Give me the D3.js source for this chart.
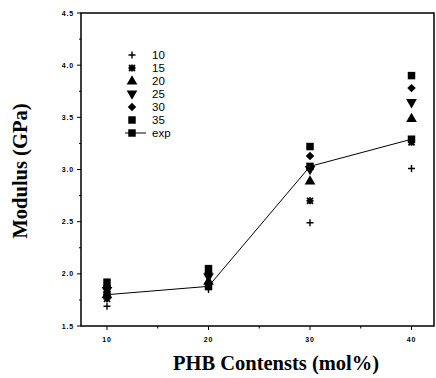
<!DOCTYPE html>
<html lang="en">
<head>
    <meta charset="UTF-8">
    <title>Modulus vs PHB Contents</title>
    <script src="https://d3js.org/d3.v7.min.js"></script>
    <style>
        body { margin: 0; background: #fff; }
        .tick-label { font-family: Arial, "Liberation Sans", sans-serif; font-size: 7px; font-weight: bold; letter-spacing: 0.8px; }
        .legend-label { font-family: Arial, "Liberation Sans", sans-serif; font-size: 11.5px; }
        .axis-title { font-family: "Times New Roman", "Liberation Serif", serif; font-size: 20.5px; font-weight: bold; }
    </style>
</head>
<body>
<div id="chart"></div>
<script>
    // PHB contents (x categories)
    const contents = [10, 20, 30, 40];
    // series names shown in the legend
    const seriesNames = ["10", "15", "20", "25", "30", "35"];
    // calculated modulus for each series, at 10/20/30/40 mol%
    const s10 = [1.69, 1.85, 2.49, 3.01];
    const s15 = [1.76, 1.89, 2.70, 3.26];
    const s20 = [1.80, 1.93, 2.89, 3.49];
    const s25 = [1.84, 1.97, 3.00, 3.64];
    const s30 = [1.88, 2.01, 3.13, 3.78];
    const s35 = [1.92, 2.05, 3.22, 3.90];
    // experimental values
    const expValues = [1.80, 1.88, 3.03, 3.29];

    const yTicks = [1.5, 2.0, 2.5, 3.0, 3.5, 4.0, 4.5];
    const yMinor = [1.75, 2.25, 2.75, 3.25, 3.75, 4.25];
    const xMinor = [15, 25, 35];

    const width = 436, height = 378;
    const frameL = 81, frameR = 434, frameT = 13, frameB = 326;

    const svg = d3.select("#chart").append("svg").attr("width", width).attr("height", height);

    const x = d3.scaleLinear().domain([10, 40]).range([107, 411.5]);
    const y = d3.scaleLinear().domain([1.5, 4.5]).range([frameB, frameT]);

    // frame
    svg.append("rect")
        .attr("x", frameL).attr("y", frameT)
        .attr("width", frameR - frameL).attr("height", frameB - frameT)
        .attr("fill", "none").attr("stroke", "#000").attr("stroke-width", 1.5);

    // y ticks
    svg.selectAll(".ymaj").data(yTicks).enter().append("line")
        .attr("x1", frameL - 4).attr("x2", frameL)
        .attr("y1", d => y(d)).attr("y2", d => y(d))
        .attr("stroke", "#000").attr("stroke-width", 1);
    svg.selectAll(".ymin").data(yMinor).enter().append("line")
        .attr("x1", frameL - 2).attr("x2", frameL)
        .attr("y1", d => y(d)).attr("y2", d => y(d))
        .attr("stroke", "#000").attr("stroke-width", 1);
    svg.selectAll(".ylab").data(yTicks).enter().append("text")
        .attr("class", "tick-label")
        .attr("x", frameL - 7).attr("y", d => y(d) + 2.5)
        .attr("text-anchor", "end")
        .text(d => d.toFixed(1));

    // x ticks
    svg.selectAll(".xmaj").data(contents).enter().append("line")
        .attr("x1", d => x(d)).attr("x2", d => x(d))
        .attr("y1", frameB).attr("y2", frameB + 4)
        .attr("stroke", "#000").attr("stroke-width", 1);
    svg.selectAll(".xmin").data(xMinor).enter().append("line")
        .attr("x1", d => x(d)).attr("x2", d => x(d))
        .attr("y1", frameB).attr("y2", frameB + 2.5)
        .attr("stroke", "#000").attr("stroke-width", 1);
    svg.selectAll(".xlab").data(contents).enter().append("text")
        .attr("class", "tick-label")
        .attr("x", d => x(d)).attr("y", frameB + 16)
        .attr("text-anchor", "middle")
        .text(d => d);

    // axis titles
    svg.append("text").attr("class", "axis-title")
        .attr("x", 276).attr("y", 370)
        .attr("text-anchor", "middle")
        .text("PHB Contensts (mol%)");
    svg.append("text").attr("class", "axis-title")
        .attr("transform", "translate(27,171) rotate(-90)")
        .attr("text-anchor", "middle")
        .text("Modulus (GPa)");

    // one marker per series: +, asterisk, up triangle, down triangle, diamond, square
    function drawMarker(g, i, cx, cy) {
        if (i === 0) {
            g.append("path")
                .attr("d", `M${cx - 3.5},${cy}H${cx + 3.5}M${cx},${cy - 3.5}V${cy + 3.5}`)
                .attr("stroke", "#000").attr("stroke-width", 1.4).attr("fill", "none");
        } else if (i === 1) {
            g.append("path")
                .attr("d", `M${cx - 3.5},${cy}H${cx + 3.5}M${cx},${cy - 3.5}V${cy + 3.5}` +
                           `M${cx - 3},${cy - 3}L${cx + 3},${cy + 3}M${cx - 3},${cy + 3}L${cx + 3},${cy - 3}`)
                .attr("stroke", "#000").attr("stroke-width", 1.8).attr("fill", "none");
        } else if (i === 2) {
            g.append("path").attr("d", d3.symbol().type(d3.symbolTriangle).size(50)())
                .attr("transform", `translate(${cx},${cy + 0.5})`).attr("fill", "#000");
        } else if (i === 3) {
            g.append("path").attr("d", d3.symbol().type(d3.symbolTriangle).size(50)())
                .attr("transform", `translate(${cx},${cy - 0.5}) rotate(180)`).attr("fill", "#000");
        } else if (i === 4) {
            g.append("path").attr("d", d3.symbol().type(d3.symbolSquare).size(36)())
                .attr("transform", `translate(${cx},${cy}) rotate(45)`).attr("fill", "#000");
        } else {
            g.append("path").attr("d", d3.symbol().type(d3.symbolSquare).size(56)())
                .attr("transform", `translate(${cx},${cy})`).attr("fill", "#000");
        }
    }

    const series = [s10, s15, s20, s25, s30, s35];
    const pts = svg.append("g");
    series.forEach((vals, i) => {
        vals.forEach((v, j) => drawMarker(pts, i, x(contents[j]), y(v)));
    });

    // experimental line + squares
    const line = d3.line().x((d, j) => x(contents[j])).y(d => y(d));
    svg.append("path").datum(expValues)
        .attr("d", line).attr("fill", "none")
        .attr("stroke", "#000").attr("stroke-width", 1);
    svg.selectAll(".exp").data(expValues).enter().append("path")
        .attr("d", d3.symbol().type(d3.symbolSquare).size(56)())
        .attr("transform", (d, j) => `translate(${x(contents[j])},${y(d)})`)
        .attr("fill", "#000");

    // legend
    const legX = 132, legTextX = 152, legY0 = 55, legStep = 13;
    const leg = svg.append("g");
    seriesNames.forEach((name, i) => {
        drawMarker(leg, i, legX, legY0 + i * legStep);
        leg.append("text").attr("class", "legend-label")
            .attr("x", legTextX).attr("y", legY0 + i * legStep + 4)
            .text(name);
    });
    const ey = legY0 + 6 * legStep;
    leg.append("line").attr("x1", 125).attr("x2", 146).attr("y1", ey).attr("y2", ey)
        .attr("stroke", "#000").attr("stroke-width", 1);
    leg.append("path").attr("d", d3.symbol().type(d3.symbolSquare).size(56)())
        .attr("transform", `translate(${legX},${ey})`).attr("fill", "#000");
    leg.append("text").attr("class", "legend-label")
        .attr("x", legTextX).attr("y", ey + 4).text("exp");
</script>
</body>
</html>
